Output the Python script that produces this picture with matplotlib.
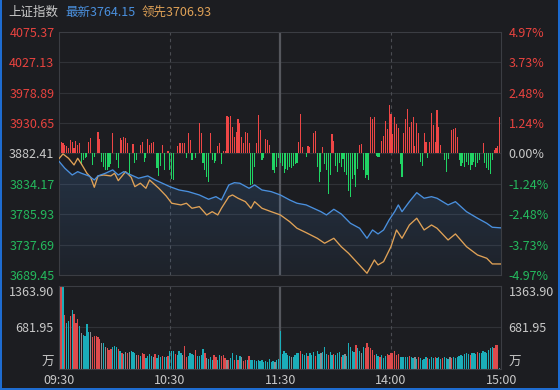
import numpy as np
import matplotlib
matplotlib.use('Agg')
import matplotlib.pyplot as plt
from matplotlib.patches import Polygon
from matplotlib.lines import Line2D

plt.rcParams['font.family'] = ['Noto Sans CJK SC', 'DejaVu Sans']

# ---------------- data ----------------
prev_close = 3882.41
last_price = 3764.15
lead_price = 3706.93
price_ticks = [3689.45, 3737.69, 3785.93, 3834.17, 3882.41, 3930.65, 3978.89, 4027.13, 4075.37]
pct_labels = ['-4.97%', '-3.73%', '-2.48%', '-1.24%', '0.00%', '1.24%', '2.48%', '3.73%', '4.97%']
time_ticks = [0, 60, 120, 180, 240]
time_labels = ['09:30', '10:30', '11:30', '14:00', '15:00']
vol_ticks = [0, 681.95, 1363.90]
vol_labels = ['万', '681.95', '1363.90']

# 最新 (index) line: minute index and price
latest_min = [0, 3, 7, 10, 12, 16, 19, 21, 25, 29, 32, 35, 39, 43, 48, 52, 58, 60, 65, 70,
              76, 81, 85, 88, 92, 95, 98, 103, 106, 110, 115, 120, 125, 129, 134, 136, 142, 145,
              149, 153, 158, 163, 167, 170, 173, 176, 179, 182, 184, 186, 190, 194, 198, 202,
              205, 211, 215, 221, 227, 232, 235, 240]
latest_val = [3869.2, 3858.8, 3848.1, 3853.4, 3850.8, 3846.6, 3840.2, 3846.6, 3850.8, 3856.1,
              3848.1, 3853.4, 3848.1, 3842.9, 3846.6, 3840.2, 3832.3, 3829.6, 3824.3, 3821.7,
              3816.4, 3809.6, 3813.7, 3808.5, 3832.3, 3835.9, 3835.0, 3827.0, 3832.3, 3824.3,
              3821.7, 3816.4, 3808.5, 3803.3, 3800.6, 3797.9, 3789.9, 3784.7, 3793.7, 3786.3,
              3771.5, 3763.6, 3747.7, 3760.9, 3754.6, 3760.9, 3776.8, 3789.9, 3800.6, 3789.9,
              3805.8, 3820.1, 3811.2, 3813.7, 3811.2, 3800.6, 3805.8, 3789.9, 3779.5, 3771.5,
              3765.2, 3764.15]

# 领先 line
lead_min = [0, 2, 5, 8, 10, 12, 15, 17, 19, 21, 24, 28, 30, 32, 36, 39, 41, 44, 47, 49,
            54, 58, 61, 66, 69, 72, 76, 80, 83, 86, 88, 92, 94, 97, 101, 104, 106, 110, 115,
            120, 125, 129, 134, 140, 144, 149, 153, 157, 162, 167, 171, 173, 176, 180, 183,
            186, 190, 194, 198, 202, 205, 211, 215, 221, 227, 232, 235, 240]
lead_val = [3874.6, 3881.5, 3874.6, 3864.0, 3874.6, 3865.6, 3850.8, 3844.5, 3828.6, 3846.6,
            3848.1, 3846.6, 3850.8, 3839.1, 3853.4, 3844.5, 3829.6, 3835.0, 3827.0, 3840.2,
            3827.0, 3814.8, 3803.3, 3800.6, 3803.3, 3795.3, 3797.9, 3784.7, 3789.9, 3784.7,
            3795.3, 3813.7, 3816.4, 3811.2, 3805.8, 3795.3, 3805.8, 3795.3, 3789.9, 3784.7,
            3774.1, 3763.6, 3756.6, 3747.7, 3739.8, 3747.7, 3734.4, 3723.9, 3708.1, 3692.2,
            3713.3, 3705.4, 3710.6, 3734.4, 3760.9, 3747.7, 3768.8, 3779.5, 3760.9, 3768.8,
            3763.6, 3745.0, 3754.6, 3734.4, 3721.2, 3716.0, 3707.0, 3706.93]

# red / green lead bars (index points relative to previous close), one per minute
lead_bar = [32, 18, 17, 13, 12, 9, 21, 18, 8, 20,
            13, 16, -18, -11, -8, -5, 18, 24, -18, -5,
            0, 34, 22, -13, -22, -26, -27, -22, -17, 33,
            0, -11, -24, 24, 21, 26, 24, 16, -32, 0,
            15, -16, -11, 0, 13, 18, -13, -8, 22, 13,
            17, 18, 0, -24, -36, -20, 13, -26, 0, 4,
            -26, -40, -42, 0, 12, 17, 17, 17, 16, -8,
            32, 21, -11, 0, -8, 0, 48, 32, -16, -26,
            -37, -45, 32, -11, -15, -12, 11, 16, -17, 3,
            4, 59, 58, 59, 42, 26, 34, 55, 48, 26,
            16, 34, 32, 16, -50, -48, -21, 16, 61, 37,
            -11, -8, 22, 21, 13, 0, -26, -31, -22, -8,
            -15, -20, -31, -25, -27, -22, -24, -20, -17, -15,
            18,
            62, 10, 0, -5, 12, 10, 0, 33, 36, -22,
            -46, -30, 10, -17, -27, -64, -35, 30, 20, -20,
            -30, -16, -21, -9, -30, -35, -59, -69, -40, -35,
            -53, -25, 14, 15, -27, -39, -35, -42, 58, 54,
            57, -4, -6, -5, 20, 28, 52, 39, 77, 62,
            31, 57, 46, 41, -17, -38, 32, 55, 70, 42,
            50, 57, 11, 48, 32, -13, -20, 32, 18, -8,
            18, 64, 45, 18, 69, 42, 13, 0, -11, -30,
            -9, 0, 37, 38, 40, 26, -11, -20, -16, -21,
            -13, -18, -26, -18, -13, -21, -16, -11, 0, 17,
            -16, -24, -26, -33, -10, 6, 9, 11, 58, 0]

# volume (万) per minute and direction (1 up, -1 down, 0 flat, 2 auction)
volume = [409, 1342, 1364, 884, 753, 791, 862, 966, 906, 753,
          818, 709, 589, 562, 535, 737, 611, 600, 518, 546,
          535, 518, 491, 426, 426, 355, 338, 316, 333, 355,
          382, 360, 333, 300, 262, 251, 273, 262, 278, 289,
          273, 262, 235, 224, 218, 262, 251, 180, 207, 240,
          218, 196, 251, 180, 235, 196, 218, 200, 190, 210,
          289, 300, 289, 251, 235, 289, 262, 235, 371, 196,
          218, 262, 251, 235, 316, 218, 218, 235, 327, 262,
          180, 164, 196, 153, 235, 196, 142, 235, 218, 235,
          180, 153, 142, 180, 262, 142, 235, 153, 207, 196,
          125, 142, 142, 218, 142, 153, 142, 125, 142, 125,
          142, 109, 125, 109, 164, 120, 130, 115, 140, 160,
          620,
          244, 298, 260, 227, 211, 189, 200, 227, 254, 265,
          298, 244, 227, 265, 211, 254, 227, 281, 211, 298,
          244, 265, 281, 363, 244, 227, 281, 227, 244, 227,
          254, 281, 200, 227, 244, 211, 428, 363, 298, 281,
          390, 336, 298, 265, 363, 336, 417, 363, 336, 308,
          227, 244, 211, 189, 227, 173, 211, 244, 227, 254,
          265, 298, 227, 244, 189, 200, 189, 200, 189, 211,
          189, 173, 189, 157, 189, 173, 146, 157, 189, 173,
          157, 189, 173, 189, 173, 189, 157, 173, 189, 173,
          157, 189, 173, 189, 173, 200, 211, 227, 211, 244,
          254, 244, 227, 265, 254, 244, 281, 254, 265, 298,
          281, 265, 308, 336, 363, 336, 390, 400, 20, 536]
vol_dir = [2, 1, -1, 1, -1, -1, 1, -1, 1, 1,
           1, -1, 0, -1, -1, -1, -1, 0, 1, 1,
           1, 1, 1, 0, -1, 0, 1, 1, 1, -1,
           -1, -1, 1, -1, 1, -1, 0, 1, 0, -1,
           -1, -1, 0, 1, -1, 1, 1, -1, -1, -1,
           -1, 0, 1, -1, -1, -1, 1, -1, -1, 1,
           -1, -1, -1, 1, -1, -1, -1, 0, 1, 1,
           -1, -1, -1, -1, 1, -1, -1, -1, -1, 1,
           0, -1, -1, -1, 1, 1, -1, -1, 1, 1,
           1, 0, 1, -1, -1, 1, -1, 1, -1, 0,
           1, 1, -1, 1, -1, -1, -1, -1, -1, -1,
           -1, -1, -1, -1, -1, -1, -1, 0, -1, -1,
           -1,
           -1, -1, -1, -1, -1, 0, -1, -1, -1, -1,
           1, -1, -1, -1, 1, -1, -1, -1, 1, -1,
           -1, 0, -1, -1, -1, 1, -1, -1, 1, -1,
           -1, -1, 1, -1, 0, -1, -1, -1, -1, -1,
           1, -1, -1, 0, -1, 1, 1, 1, 1, 1,
           1, -1, -1, 1, -1, -1, -1, 1, 1, 1,
           1, 1, 1, 1, -1, -1, -1, -1, -1, 1,
           -1, -1, 0, -1, 1, -1, -1, -1, -1, 1,
           -1, -1, -1, 1, -1, -1, -1, 1, -1, -1,
           -1, 0, 1, -1, -1, -1, -1, -1, -1, -1,
           -1, -1, 1, -1, -1, -1, 1, -1, -1, -1,
           -1, -1, -1, -1, -1, 1, 1, 1, -1, -1]

# ---------------- style ----------------
BG = '#1c1d21'
GRID = '#303237'
FRAME = '#3b3d43'
RED = '#e8433f'
GREEN = '#24b95d'
WHITE = '#c9c9c9'
BLUE = '#4a90de'
ORANGE = '#e0a257'
BAR_RED = '#ee4646'
BAR_GREEN = '#20d464'
VOL_RED = '#de4a4c'
VOL_TEAL = '#1badb9'
VOL_GREY = '#8a8c90'

W, H = 560, 390
fig = plt.figure(figsize=(W / 100, H / 100), dpi=100, facecolor=BG)

def fx(px):
    return px / W

def fy(py):
    return 1 - py / H

L, R = 59.3, 501.5
ax = fig.add_axes([fx(L), fy(275.0), fx(R - L), (275.0 - 31.7) / H])
axv = fig.add_axes([fx(L), fy(369.0), fx(R - L), (369.0 - 285.5) / H])

for a in (ax, axv):
    a.set_facecolor(BG)
    for s in a.spines.values():
        s.set_color(FRAME)
        s.set_linewidth(0.8)
    a.set_xlim(0, 240)

# ---- main panel ----
ymin, ymax = price_ticks[0], price_ticks[-1]
ax.set_ylim(ymin, ymax)
for p in price_ticks[1:-1]:
    ax.axhline(p, color=GRID, lw=0.8, zorder=1)
ax.axvline(60, color='#4a4c52', lw=0.8, ls=(0, (3, 3)), zorder=1)
ax.axvline(180, color='#4a4c52', lw=0.8, ls=(0, (3, 3)), zorder=1)
ax.axvline(120, color='#55575d', lw=1.6, zorder=1)

# gradient fill under latest line
xm = np.array(latest_min, dtype=float)
ym = np.array(latest_val, dtype=float)
poly_xy = np.vstack([np.column_stack([xm, ym]), [[xm[-1], ymin], [xm[0], ymin]]])
poly = Polygon(poly_xy, closed=True, facecolor='none', edgecolor='none')
ax.add_patch(poly)
grad = np.zeros((100, 2, 4))
grad[..., 0] = 0.29
grad[..., 1] = 0.56
grad[..., 2] = 0.87
grad[..., 3] = np.linspace(0.05, 0.19, 100)[:, None]
im = ax.imshow(grad, extent=(0, 240, ymin, max(latest_val)), origin='lower',
               aspect='auto', zorder=1.5, interpolation='bilinear')
im.set_clip_path(poly)

# lead bars
mins = np.arange(len(lead_bar))
lb = np.array(lead_bar, dtype=float)
bar_colors = [BAR_RED if v > 0 else BAR_GREEN for v in lb]
ax.bar(mins, lb, bottom=prev_close, width=0.6, color=bar_colors, linewidth=0,
       antialiased=False, zorder=2)

ax.plot(lead_min, lead_val, color=ORANGE, lw=0.95, zorder=3)
ax.plot(latest_min, latest_val, color=BLUE, lw=0.95, zorder=4)

ax.set_xticks([])
ax.set_yticks(price_ticks)
ax.set_yticklabels([f'{p:.2f}' for p in price_ticks])
ax.tick_params(axis='y', length=0, pad=3.5, labelsize=9)
for lbl, p in zip(ax.get_yticklabels(), price_ticks):
    lbl.set_color(RED if p > prev_close + 0.001 else (GREEN if p < prev_close - 0.001 else WHITE))

ax2 = ax.twinx()
ax2.set_ylim(ymin, ymax)
ax2.set_yticks(price_ticks)
ax2.set_yticklabels(pct_labels)
ax2.tick_params(axis='y', length=0, pad=5, labelsize=9)
for s in ax2.spines.values():
    s.set_visible(False)
for lbl, p in zip(ax2.get_yticklabels(), price_ticks):
    lbl.set_color(RED if p > prev_close + 0.001 else (GREEN if p < prev_close - 0.001 else WHITE))

# ---- volume panel ----
axv.set_ylim(0, vol_ticks[-1])
axv.axhline(vol_ticks[1], color=GRID, lw=0.8, zorder=1)
axv.axvline(60, color='#4a4c52', lw=0.8, ls=(0, (3, 3)), zorder=1)
axv.axvline(180, color='#4a4c52', lw=0.8, ls=(0, (3, 3)), zorder=1)
axv.axvline(120, color='#55575d', lw=1.6, zorder=1)
cmap_dir = {1: VOL_RED, -1: VOL_TEAL, 0: VOL_GREY, 2: '#f2f2f2'}
vcols = [cmap_dir[d] for d in vol_dir]
axv.bar(np.arange(len(volume)), volume, width=0.7, color=vcols, linewidth=0,
        antialiased=False, zorder=2)

axv.set_yticks(vol_ticks)
axv.set_yticklabels(vol_labels)
axv.tick_params(axis='y', length=0, pad=4, labelsize=9, labelcolor=WHITE)
axv.tick_params(axis='x', length=0, pad=3.5, labelsize=9, labelcolor=WHITE)
axv.set_xticks(time_ticks)
axv.set_xticklabels(time_labels)
yl = axv.get_yticklabels()
yl[0].set_va('bottom')
yl[-1].set_va('top')

axv2 = axv.twinx()
axv2.set_ylim(0, vol_ticks[-1])
axv2.set_yticks(vol_ticks)
axv2.set_yticklabels(vol_labels)
axv2.tick_params(axis='y', length=0, pad=5, labelsize=9, labelcolor=WHITE)
for s in axv2.spines.values():
    s.set_visible(False)
yr = axv2.get_yticklabels()
yr[0].set_va('bottom')
yr[-1].set_va('top')

# ---- title bar ----
ty = fy(12.5)
fig.text(fx(8), ty, '上证指数', color=WHITE, fontsize=9, va='center', ha='left')
fig.text(fx(65), ty, f'最新{last_price:.2f}', color=BLUE, fontsize=9, va='center', ha='left')
fig.text(fx(142), ty, f'领先{lead_price:.2f}', color=ORANGE, fontsize=9, va='center', ha='left')

# blue window border
fig.add_artist(Line2D([fx(0.8), fx(0.8)], [0, 1], color='#1f6fd6', lw=1.4))
fig.add_artist(Line2D([fx(559.2), fx(559.2)], [0, 1], color='#1f6fd6', lw=1.4))
fig.add_artist(Line2D([0, 1], [fy(389.2), fy(389.2)], color='#1f6fd6', lw=1.4))

fig.savefig('out.png', dpi=100, facecolor=BG)
